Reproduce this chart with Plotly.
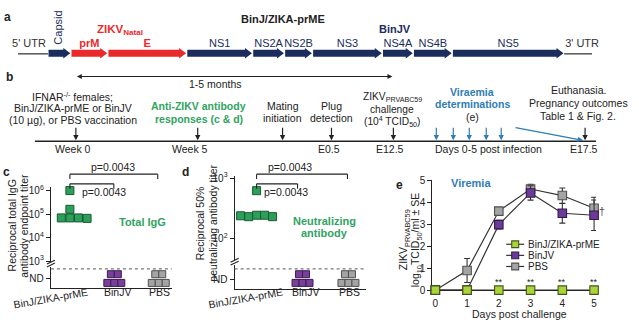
import numpy as np
import plotly.graph_objects as go

W, H = 639, 330
FONT = "Liberation Sans, Arial, sans-serif"
INK = "#222222"
NAVY = "#1a2d5c"
RED = "#ea2a2a"
GREEN_TXT = "#2fa35f"
BLUE_TXT = "#2e7db5"

# ---------------- data ----------------
genes = ["Capsid", "prM", "E", "NS1", "NS2A", "NS2B", "NS3", "NS4A", "NS4B", "NS5"]
gene_lengths = [23, 37, 79, 66, 32, 28, 70, 31, 39, 112]   # schematic, not to scale
zikv_genes = ["prM", "E"]
utr5_length = 30
utr3_length = 28

groups = ["BinJ/ZIKA-prME", "BinJV", "PBS"]
igg_binj_zika = [1.0e6, 1.6e5, 6.9e4, 6.9e4, 6.9e4, 6.6e4]
igg_binjv = [np.nan] * 5      # not detected
igg_pbs = [np.nan] * 5        # not detected
nt50_binj_zika = [620, 245, 232, 245, 232, 240]
nt50_binjv = [np.nan] * 5
nt50_pbs = [np.nan] * 5
p_labels = ["p=0.0043", "p=0.0043"]

days = [0, 1, 2, 3, 4, 5]
vir_binj_zika = [0, 0, 0, 0, 0, 0]
vir_binj_zika_se = [0, 0, 0, 0, 0, 0]
vir_binjv = [0, 0, 3.0, 4.45, 3.52, 3.43]
vir_binjv_se = [0, 0, 0.2, 0.33, 0.45, 0.7]
vir_pbs = [0, 0.9, 3.62, 4.63, 4.33, 3.75]
vir_pbs_se = [0, 0.55, 0.08, 0.22, 0.35, 0.5]
sig_days = [2, 3, 4, 5]

# ---------------- helpers ----------------
def X(px):
    return px / W


def Y(py):
    return 1 - py / H


shapes = []
annotations = []


def line_px(x0, y0, x1, y1, color=INK, width=1.0, dash=None):
    shapes.append(dict(type="line", xref="paper", yref="paper",
                       x0=X(x0), y0=Y(y0), x1=X(x1), y1=Y(y1),
                       line=dict(color=color, width=width, dash=dash)))


def text_px(x, y, text, size=10.5, color=INK, bold=False, xanchor="center", angle=0):
    if bold:
        text = f"<b>{text}</b>"
    annotations.append(dict(xref="paper", yref="paper", x=X(x), y=Y(y), text=text,
                            showarrow=False, xanchor=xanchor, yanchor="middle",
                            textangle=angle, font=dict(family=FONT, size=size, color=color)))


def down_arrow(x, y_tip, length=14, color=INK):
    annotations.append(dict(xref="paper", yref="paper", x=X(x), y=Y(y_tip), text="",
                            showarrow=True, ax=0, ay=-length, arrowhead=2, arrowsize=0.9,
                            arrowwidth=1.2, arrowcolor=color))


def swarm(values, step):
    """Horizontal offsets: equal-valued points spread sideways, centre first."""
    logs = np.log10(np.asarray(values, float))
    slots = [0, -1, 1, 2, -2, 3, -3]
    rows, out = [], np.zeros(len(logs))
    for i, v in enumerate(logs):
        for r in rows:
            if abs(logs[r[0]] - v) < 0.12:
                r.append(i)
                break
        else:
            rows.append([i])
    for r in rows:
        for k, i in enumerate(r):
            out[i] = slots[k] * step
    return out


def nd_stack(n, xstep, lo, hi):
    """Stack non-detected samples: a row of three with the rest above."""
    xs, ys = [], []
    for k in range(n):
        row, col = divmod(k, 3)
        in_row = min(3, n - row * 3)
        xs.append((col - (in_row - 1) / 2) * xstep)
        ys.append(lo if row == 0 else hi)
    return np.array(xs), np.array(ys)


def level(py, top_px, bot_px, rmin, rmax):
    return rmax - (py - top_px) / (bot_px - top_px) * (rmax - rmin)


fig = go.Figure()

# ---------------- panel a: genome map ----------------
seg_names = ["5' UTR"] + genes + ["3' UTR"]
seg_lengths = [utr5_length] + gene_lengths + [utr3_length]
edges = np.concatenate([[0], np.cumsum(seg_lengths)])
total = float(edges[-1])
seg_mid = (edges[:-1] + edges[1:]) / 2
g_start = edges[1:-2]
g_end = edges[2:-1]

yc, bh, hh, head = Y(50), 3.6 / H, 5.4 / H, 7
for i, g in enumerate(genes):
    s, e = g_start[i] + 0.6, g_end[i] - 0.6
    h = e - head
    col = RED if g in zikv_genes else NAVY
    path = (f"M{s},{yc + bh} L{h},{yc + bh} L{h},{yc + hh} L{e},{yc} "
            f"L{h},{yc - hh} L{h},{yc - bh} L{s},{yc - bh} Z")
    shapes.append(dict(type="path", xref="x4", yref="paper", path=path,
                       fillcolor=col, line=dict(width=0)))
for a0, a1 in [(edges[0], edges[1]), (edges[-2], edges[-1])]:
    shapes.append(dict(type="line", xref="x4", yref="paper", x0=a0, x1=a1,
                       y0=Y(50.5), y1=Y(50.5), line=dict(color="#555555", width=1.5)))

# segment names above the arrows (Capsid is written vertically)
label_idx = [i for i, n in enumerate(seg_names) if n != "Capsid"]
label_names = [seg_names[i] for i in label_idx]
label_x = [seg_mid[i] for i in label_idx]
label_x[0] -= 4
label_x[-1] += 4


def seg_color(n):
    if n in zikv_genes:
        return RED
    if "UTR" in n:
        return "#333333"
    return NAVY


fig.add_trace(go.Scatter(
    x=label_x, y=[0.5] * len(label_names), xaxis="x4", yaxis="y4", mode="text",
    text=[f"<b>{n}</b>" if n in zikv_genes else n for n in label_names],
    textposition="middle center",
    textfont=dict(family=FONT, size=11, color=[seg_color(n) for n in label_names]),
    hoverinfo="skip", showlegend=False, cliponaxis=False))
annotations.append(dict(xref="x4", yref="paper", x=seg_mid[1] - 1, y=Y(23), text="Capsid",
                        textangle=-90, showarrow=False, xanchor="center", yanchor="middle",
                        font=dict(family=FONT, size=11, color=NAVY)))

text_px(8, 12, "a", size=12, bold=True)
text_px(283, 14, "BinJ/ZIKA-prME", size=11, bold=True)
text_px(120, 26, "ZIKV<sub>Natal</sub>", size=11.5, color=RED, bold=True)
text_px(396, 25, "BinJV", size=11, color=NAVY, bold=True)

# ---------------- panel b: timeline ----------------
text_px(10, 74, "b", size=12, bold=True)
annotations.append(dict(xref="paper", yref="paper", x=X(393), y=Y(74), text="",
                        showarrow=True, ax=76 - 393, ay=0, arrowhead=2, arrowside="end+start",
                        arrowsize=0.9, arrowwidth=1.1, arrowcolor=INK))
text_px(216, 82, "1-5 months")
line_px(35, 141, 597, 141, color=INK, width=1.5)

for x in [76, 198, 283, 332, 394, 586]:
    down_arrow(x, 140)
for x in [437, 454, 470, 487, 502]:
    down_arrow(x, 140, color=BLUE_TXT)
annotations.append(dict(xref="paper", yref="paper", x=X(584), y=Y(140), text="",
                        showarrow=True, ax=515 - 584, ay=127 - 140, arrowhead=2,
                        arrowsize=0.9, arrowwidth=1.2, arrowcolor=BLUE_TXT))

for i, t in enumerate(["IFNAR<sup>-/-</sup> females;", "BinJ/ZIKA-prME or BinJV",
                       "(10 µg), or PBS vaccination"]):
    text_px(73, 95 + 12 * i, t)
for i, t in enumerate(["Anti-ZIKV antibody", "responses (c & d)"]):
    text_px(199, 105 + 12.5 * i, t, color=GREEN_TXT, bold=True)
for i, t in enumerate(["Mating", "initiation"]):
    text_px(283, 104 + 13 * i, t)
for i, t in enumerate(["Plug", "detection"]):
    text_px(332, 104 + 13 * i, t)
for y, t in [(95.5, "ZIKV<sub>PRVABC59</sub>"), (108, "challenge"),
             (121.5, "(10<sup>4</sup> TCID<sub>50</sub>)")]:
    text_px(393, y, t, size=10.2)
for i, t in enumerate(["Viraemia", "determinations"]):
    text_px(473, 90 + 12.5 * i, t, color=BLUE_TXT, bold=True)
text_px(473, 116, "(e)")
for i, t in enumerate(["Euthanasia.", "Pregnancy outcomes", "Table 1 & Fig. 2."]):
    text_px(579, 88 + 13.5 * i, t)
for x, t in [(73, "Week 0"), (190, "Week 5"), (330, "E0.5"), (391, "E12.5"),
             (489, "Days 0-5 post infection"), (585, "E17.5")]:
    text_px(x, 149, t)

# ---------------- panels c & d: antibody titres ----------------
GREEN, GREEN_LN = "#2e9e5b", "#155a30"
PURPLE, PURPLE_LN = "#7b3f9b", "#3a1d55"
GREY, GREY_LN = "#a4a4a4", "#505050"


def titre_panel(xa, ya, pos, dvals, nd_sets, ydom, rng, nd_px, swarm_step, nd_step, msize):
    offs = swarm(dvals, swarm_step)
    fig.add_trace(go.Scatter(
        x=pos[0] + offs, y=dvals, xaxis=xa, yaxis=ya, mode="markers",
        marker=dict(symbol="square", size=msize, color=GREEN, line=dict(color=GREEN_LN, width=1)),
        showlegend=False, hoverinfo="skip", cliponaxis=False))
    lo = level(nd_px[1], ydom[0], ydom[1], *rng)
    hi = level(nd_px[0], ydom[0], ydom[1], *rng)
    for k, (vals, fc, lc) in enumerate(zip(nd_sets, [PURPLE, GREY], [PURPLE_LN, GREY_LN])):
        n_nd = int(np.sum(np.isnan(vals)))
        xs, ys = nd_stack(n_nd, nd_step, lo, hi)
        fig.add_trace(go.Scatter(
            x=pos[k + 1] + xs, y=10 ** ys, xaxis=xa, yaxis=ya, mode="markers",
            marker=dict(symbol="square", size=msize - 1, color=fc, line=dict(color=lc, width=1)),
            showlegend=False, hoverinfo="skip", cliponaxis=False))


# panel c geometry (pixels)
c_x0, c_x1, c_y0, c_y1 = 51, 172, 188, 293
c_cat0, c_px_per = 70, 44.5
c_rmax = 6 + (192 - c_y0) / (73 / 3)
c_rmin = 3 - (c_y1 - 265) / (73 / 3)
titre_panel("x", "y", [0, 1, 2], igg_binj_zika, [igg_binjv, igg_pbs],
            (c_y0, c_y1), (c_rmin, c_rmax), (278.5, 287.5),
            8.6 / c_px_per, 7 / c_px_per, 8)
c_nd = level(283, c_y0, c_y1, c_rmin, c_rmax)

# panel d geometry (pixels)
d_x0, d_x1, d_y0, d_y1 = 235, 367, 177, 294
d_cat0, d_px_per = 257, 46
d_rmax = 3 + (179 - d_y0) / 63
d_rmin = 2 - (d_y1 - 242) / 63
titre_panel("x2", "y2", [0, 1, 2], nt50_binj_zika, [nt50_binjv, nt50_pbs],
            (d_y0, d_y1), (d_rmin, d_rmax), (278.5, 287.5),
            8 / d_px_per, 7 / d_px_per, 8)
d_nd = level(284, d_y0, d_y1, d_rmin, d_rmax)

axis_common = dict(showline=True, linecolor=INK, linewidth=1.2, ticks="outside",
                   ticklen=4, tickwidth=1.1, tickcolor=INK, showgrid=False, zeroline=False,
                   tickfont=dict(family=FONT, size=10, color=INK))

sup = {3: "10<sup>3</sup>", 4: "10<sup>4</sup>", 5: "10<sup>5</sup>", 6: "10<sup>6</sup>"}

for (x0, x1, brk) in [(c_x0, c_x1, 268), (d_x0, d_x1, 266)]:
    # axis break on the y axis and detection-limit line
    shapes.append(dict(type="rect", xref="paper", yref="paper", x0=X(x0 - 3), x1=X(x0 + 3),
                       y0=Y(brk + 3), y1=Y(brk - 2), fillcolor="white", line=dict(width=0)))
    line_px(x0 - 4, brk, x0 + 4, brk - 4, width=1.1)
    line_px(x0 - 4, brk + 3, x0 + 4, brk - 1, width=1.1)
    line_px(x0, 273, x1, 273, color="#555555", width=1, dash="dot")

# category labels
for (cat0, per, yb, slant_shift) in [(c_cat0, c_px_per, 297, -19), (d_cat0, d_px_per, 297, -11)]:
    text_px(cat0 + slant_shift, yb + 6, groups[0], size=10.5, angle=-10)
    text_px(cat0 + per + 3, yb, groups[1], size=10.5)
    text_px(cat0 + 2 * per + 1, yb, groups[2], size=10.5)

# significance brackets
for (cat0, per, lab_top, lab_low, end_low) in [(70, 44.5, 113, 104, 114), (257, 46, 290, 286, 298)]:
    right_top = cat0 + 2 * per - 1
    line_px(cat0, 175, right_top, 175, width=1.1)
    line_px(cat0, 175, cat0, 180, width=1.1)
    line_px(right_top, 175, right_top, 180, width=1.1)
    text_px(lab_top, 168, p_labels[0])
    line_px(cat0, 185, end_low, 185, width=1.1)
    line_px(cat0, 185, cat0, 190, width=1.1)
    line_px(end_low, 185, end_low, 190, width=1.1)
    text_px(lab_low, 193.5, p_labels[1])

text_px(7, 173, "c", size=12, bold=True)
text_px(186, 173, "d", size=12, bold=True)
text_px(143, 225, "Total IgG", size=11, color=GREEN_TXT, bold=True)
text_px(325, 223, "Neutralizing", size=11, color=GREEN_TXT, bold=True)
text_px(325, 236, "antibody", size=11, color=GREEN_TXT, bold=True)
text_px(12, 228, "Reciprocal total IgG", size=10.5, angle=-90)
text_px(24.5, 228, "antibody endpoint titer", size=10.5, angle=-90)
text_px(201, 226, "Reciprocal 50%", size=10.5, angle=-90)
text_px(213.5, 226, "neutralizing antibody titer", size=10.5, angle=-90)

# ---------------- panel e: viraemia ----------------
E_GREEN, E_GREEN_LN = "#a9d43a", "#45561a"
E_PURPLE, E_PURPLE_LN = "#6e3a98", "#331a4d"
e_series = [("PBS", vir_pbs, vir_pbs_se, GREY, GREY_LN),
            ("BinJV", vir_binjv, vir_binjv_se, E_PURPLE, E_PURPLE_LN),
            ("BinJ/ZIKA-prME", vir_binj_zika, vir_binj_zika_se, E_GREEN, E_GREEN_LN)]
for name, vals, se, fc, lc in e_series:
    fig.add_trace(go.Scatter(
        x=days, y=vals, xaxis="x3", yaxis="y3", mode="lines+markers", name=name,
        line=dict(color="#333333", width=1.2),
        marker=dict(symbol="square", size=8.5, color=fc, line=dict(color=lc, width=1.1)),
        error_y=dict(type="data", array=se, visible=True, thickness=1.1, width=3, color="#333333"),
        showlegend=False, hoverinfo="skip", cliponaxis=False))

for d in sig_days:
    annotations.append(dict(xref="x3", yref="y3", x=d, y=0, yshift=8, text="**",
                            showarrow=False, font=dict(family=FONT, size=9, color=INK)))

# legend drawn as glyph + text rows
for i, (name, fc, lc) in enumerate([("BinJ/ZIKA-prME", E_GREEN, E_GREEN_LN),
                                    ("BinJV", E_PURPLE, E_PURPLE_LN),
                                    ("PBS", GREY, GREY_LN)]):
    yy = 247.5 + 11.5 * i
    line_px(507, yy, 525, yy, color="#333333", width=1.2)
    shapes.append(dict(type="rect", xref="paper", yref="paper", x0=X(512.5), x1=X(519.5),
                       y0=Y(yy + 3.5), y1=Y(yy - 3.5), fillcolor=fc, line=dict(color=lc, width=1.1)))
    text_px(527, yy, name, size=10, xanchor="left")

text_px(400, 186, "e", size=12, bold=True)
text_px(472, 184, "Viremia", size=11, color=BLUE_TXT, bold=True)
text_px(603, 213, "†", size=10.5, color="#444444")
text_px(405, 243, "ZIKV<sub>PRVABC59</sub>", size=10.5, angle=-90)
text_px(417, 243, "log<sub>10</sub>TCID<sub>50</sub>/ml ± SE", size=10.5, angle=-90)
text_px(520, 320, "Days post challenge", size=10.5)

e_x0, e_x1, e_y0, e_y1 = 433, 597, 181, 295
e_day0, e_px_day = 436, 31.8
e_px_unit = 22.6

fig.update_layout(
    width=W, height=H, margin=dict(l=0, r=0, t=0, b=0),
    paper_bgcolor="white", plot_bgcolor="rgba(0,0,0,0)", showlegend=False,
    font=dict(family=FONT, size=10.5, color=INK),
    shapes=shapes, annotations=annotations,
    xaxis=dict(domain=[X(c_x0), X(c_x1)], anchor="y",
               range=[(c_x0 - c_cat0) / c_px_per, (c_x1 - c_cat0) / c_px_per],
               showline=True, linecolor=INK, linewidth=1.2, ticks="", showticklabels=False,
               showgrid=False, zeroline=False),
    yaxis=dict(domain=[Y(c_y1), Y(c_y0)], anchor="x", type="log", range=[c_rmin, c_rmax],
               tickvals=[10 ** c_nd, 1e3, 1e4, 1e5, 1e6],
               ticktext=["ND", sup[3], sup[4], sup[5], sup[6]], **axis_common),
    xaxis2=dict(domain=[X(d_x0), X(d_x1)], anchor="y2",
                range=[(d_x0 - d_cat0) / d_px_per, (d_x1 - d_cat0) / d_px_per],
                showline=True, linecolor=INK, linewidth=1.2, ticks="", showticklabels=False,
                showgrid=False, zeroline=False),
    yaxis2=dict(domain=[Y(d_y1), Y(d_y0)], anchor="x2", type="log", range=[d_rmin, d_rmax],
                tickvals=[10 ** d_nd, 1e2, 1e3],
                ticktext=["ND", "10<sup>2</sup>", "10<sup>3</sup>"], **axis_common),
    xaxis3=dict(domain=[X(e_x0), X(e_x1)], anchor="y3",
                range=[(e_x0 - e_day0) / e_px_day, (e_x1 - e_day0) / e_px_day],
                tickvals=days, layer="below traces", **axis_common),
    yaxis3=dict(domain=[Y(e_y1), Y(e_y0)], anchor="x3",
                range=[0, (e_y1 - e_y0) / e_px_unit], tickvals=[0, 1, 2, 3, 4, 5],
                layer="below traces", **axis_common),
    xaxis4=dict(domain=[X(18), X(593)], anchor="y4", range=[0, total], visible=False),
    yaxis4=dict(domain=[Y(47), Y(35)], anchor="x4", range=[0, 1], visible=False),
)

fig.write_html("out.html")
